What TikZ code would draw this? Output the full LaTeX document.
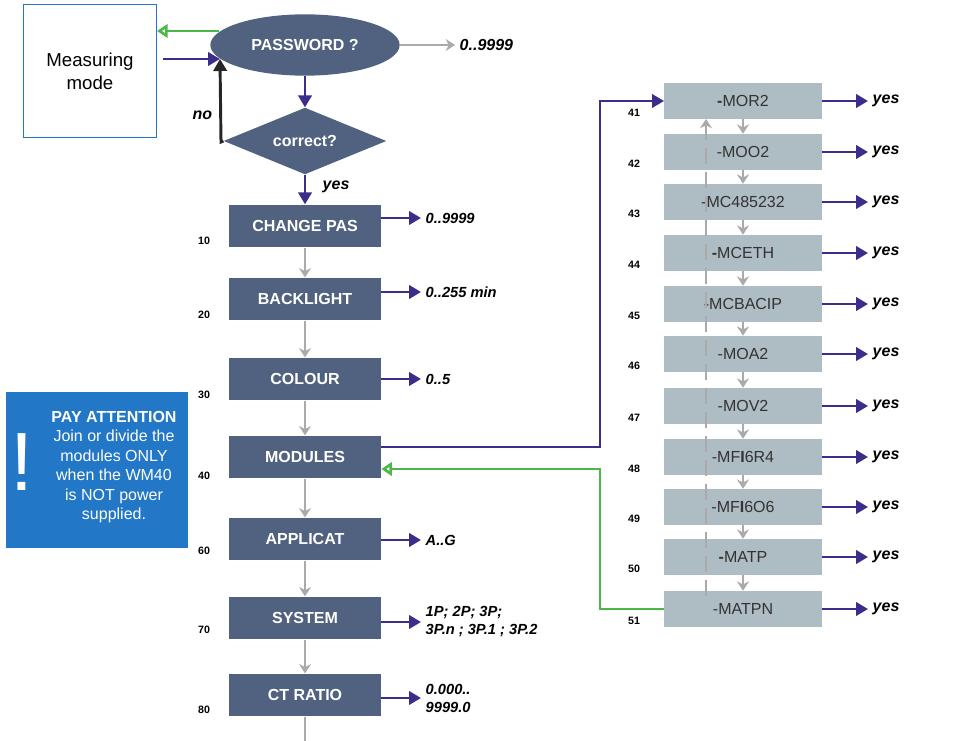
\documentclass[tikz,border=0pt]{standalone}
\usepackage{fontspec}
\setmainfont{Liberation Sans}
\usetikzlibrary{shapes.geometric,arrows.meta}
\definecolor{dbox}{HTML}{50627F}
\definecolor{lbox}{HTML}{AEBCC4}
\definecolor{barrow}{HTML}{3A2E8A}
\definecolor{garrow}{HTML}{4DB848}
\definecolor{grey}{HTML}{AAAAAA}
\definecolor{attn}{HTML}{2277C6}
\begin{document}
\begin{tikzpicture}[x=0.75pt,y=-0.75pt,
 db/.style={fill=dbox,text=white,font=\fontsize{12}{14}\selectfont\bfseries,minimum width=114pt,minimum height=32pt,inner sep=0pt},
 lb/.style={fill=lbox,text=black!80,font=\fontsize{12}{14}\selectfont,minimum width=118pt,minimum height=27pt,inner sep=0pt},
 num/.style={font=\fontsize{8}{10}\selectfont\bfseries},
 lab/.style={font=\fontsize{12}{14}\selectfont\bfseries\itshape,anchor=west,align=left},
 ba/.style={draw=barrow,line width=2.2pt,-{Triangle[length=9pt,width=10pt]}},
 ga/.style={draw=grey,line width=2.2pt,-{Stealth[length=7pt,width=9pt]}},
 gr/.style={draw=garrow,line width=2.2pt,-{Triangle[open,length=8pt,width=10pt]}}]
\useasboundingbox (0,0) rectangle (971,741);
% top
\node[draw=attn,minimum width=100pt,minimum height=100pt,inner sep=0pt,font=\fontsize{14}{17}\selectfont,align=center] (mm) at (90,71) {Measuring\\mode};
\node[ellipse,fill=dbox,text=white,font=\fontsize{12}{14}\selectfont\bfseries,minimum width=142pt,minimum height=46pt,inner sep=0pt] (pw) at (305,45) {PASSWORD ?};
\node[diamond,fill=dbox,text=white,font=\fontsize{12}{14}\selectfont\bfseries,minimum width=122pt,minimum height=50pt,inner sep=0pt,aspect=2.4] (cr) at (305,141) {correct?};
\coordinate (pwl) at (219,31);
\coordinate (mmr) at (157,31);
\draw[gr] (pwl) -- (mmr);
\coordinate (mmo) at (163,59);
\coordinate (pwi) at (220,59);
\draw[ba] (mmo) -- (pwi);
\coordinate (crl) at (221,142);
\draw[draw=black!85,line width=2.2pt,-{Triangle[length=9pt,width=10pt]}] (cr.west) -- (crl) -- (pwi);
\node[lab] (no) at (188,115) {no};
\node[lab] (pwv) at (455,45) {0..9999};
\draw[ga] (pw.east) -- (pwv.west);
\draw[ba] (pw.south) -- (cr.north);
% left column
\node[db] (c10) at (305,226) {CHANGE PAS};
\node[db] (c20) at (305,299) {BACKLIGHT};
\node[db] (c30) at (305,379) {COLOUR};
\node[db] (c40) at (305,457) {MODULES};
\node[db] (c60) at (305,539) {APPLICAT};
\node[db] (c70) at (305,618) {SYSTEM};
\node[db] (c80) at (305,695) {CT RATIO};
\draw[ba] (cr.south) -- (c10.north);
\node[lab] (yes) at (318,187) {yes};
\draw[ga] (c10) -- (c20);
\draw[ga] (c20) -- (c30);
\draw[ga] (c30) -- (c40);
\draw[ga] (c40) -- (c60);
\draw[ga] (c60) -- (c70);
\draw[ga] (c70) -- (c80);
\coordinate (bot) at (305,741);
\draw[grey,line width=2.2pt] (c80) -- (bot);
\foreach \n/\y in {10/241,20/315,30/395,40/476,60/551,70/630,80/710}
  \node[num] (n\n) at (204,\y) {\n};
\foreach \n/\y/\t in {10/218/0..9999,20/292/0..255 min,30/379/0..5,60/540/A..G,70/622/{1P; 2P; 3P;\\3P.n ; 3P.1 ; 3P.2},80/698/{0.000..\\9999.0}}{
  \node[lab,font=\fontsize{11}{13.5}\selectfont\bfseries\itshape] (v\n) at (421,\y) {\t};
  \coordinate (o\n) at (381,\y);
  \draw[ba] (o\n) -- (v\n.west);
}
% right column
\foreach \i/\y/\t/\v in {41/101/\textbf{-}MOR2/yes/no (M),42/152/-MOO2/yes/no (M),43/202/-MC485232/yes/no (M)*,44/253/\textbf{-}MCETH/yes/no (A)*,45/304/-MCBACIP/yes/no (A)*,46/354/-MOA2/yes/no (A),47/406/-MOV2/yes/no (A),48/457/-MF\textbf{I}6R4/yes/no (A),49/507/-MF\textbf{I}6O6/yes/no (A),50/557/\textbf{-}MATP/yes/no (A),51/609/-MATPN/yes/no (A)}{
  \node[lb] (m\i) at (743,\y) {\t};
  \node[num] (k\i) at (634,\y+12) {\i};
  \node[lab] (w\i) at (868,\y) {\v};
  \draw[ba] (m\i.east) -- (w\i.west);
}
\foreach \a/\b in {41/42,42/43,43/44,44/45,45/46,46/47,47/48,48/49,49/50,50/51}
  \draw[ga] (m\a.south) -- (m\b.north);
\coordinate (dsb) at (706,596);
\coordinate (dst) at (706,119);
\draw[grey,line width=2.2pt,dash pattern=on 12pt off 6pt,-{Stealth[length=7pt,width=9pt]}] (dsb) -- (dst);
% connectors
\coordinate (r1) at (600,447);
\coordinate (r2) at (600,101);
\draw[ba,line width=1.8pt] (c40.east|-r1) -- (r1) -- (r2) -- (m41.west);
\coordinate (g1) at (600,609);
\coordinate (g2) at (600,469);
\draw[gr] (m51.west) -- (g1) -- (g2) -- (c40.east|-g2);
% attention box
\node[fill=attn,minimum width=136.5pt,minimum height=117pt,inner sep=0pt] (att) at (97,470) {};
\node[text=white,font=\fontsize{62}{62}\selectfont] (ex) at (22,462) {!};
\node[text=white,font=\fontsize{12}{14.6}\selectfont,align=center] (at) at (114,467) {\textbf{PAY ATTENTION}\\Join or divide the\\modules ONLY\\when the WM40\\is NOT power\\supplied.};
\end{tikzpicture}
\end{document}
